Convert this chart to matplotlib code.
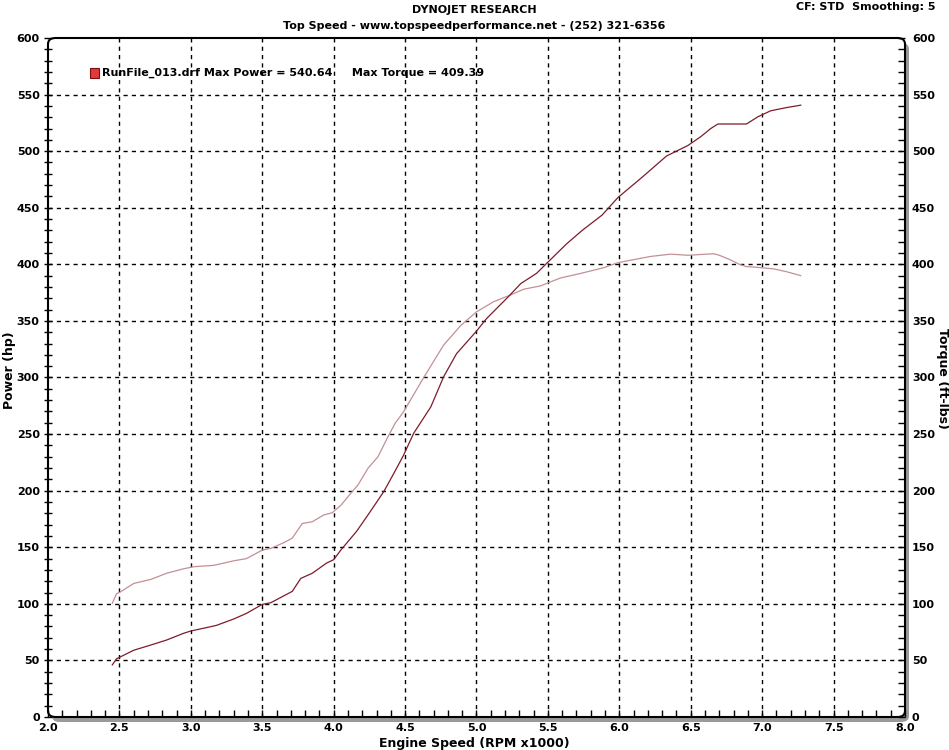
import numpy as np
import matplotlib.pyplot as plt
from matplotlib.patches import Rectangle, FancyBboxPatch
from matplotlib.ticker import MultipleLocator

# Dyno run values (RPM x1000)
rpm_power = [2.45, 2.48, 2.50, 2.60, 2.72, 2.83, 2.95, 3.00, 3.11, 3.18, 3.30, 3.39,
             3.50, 3.56, 3.65, 3.71, 3.77, 3.85, 3.95, 4.00, 4.05, 4.16, 4.24, 4.35,
             4.42, 4.49, 4.56, 4.68, 4.77, 4.86, 5.00, 5.07, 5.22, 5.31, 5.42, 5.49,
             5.63, 5.74, 5.88, 5.99, 6.16, 6.33, 6.48, 6.57, 6.64, 6.69, 6.89, 6.97,
             7.06, 7.17, 7.27]
power = [46, 51.5, 52.7, 59, 63.6, 68, 74, 76, 79, 81, 86.6, 91.6,
         99.5, 101, 107, 111, 122.5, 127, 136, 139, 147.5, 164, 178.5, 199,
         215, 231.5, 250.7, 274, 300.7, 321, 341, 352, 371, 383, 392, 400.7,
         418, 430, 443.6, 459, 477, 495.7, 505, 512.8, 520, 524, 524, 530.4,
         535.7, 538.5, 540.64]

rpm_torque = [2.45, 2.48, 2.50, 2.60, 2.72, 2.83, 2.95, 3.02, 3.16, 3.30, 3.39, 3.50,
              3.56, 3.65, 3.71, 3.78, 3.85, 3.93, 3.99, 4.05, 4.12, 4.17, 4.24, 4.31,
              4.38, 4.43, 4.49, 4.62, 4.77, 4.89, 5.00, 5.12, 5.24, 5.33, 5.45, 5.52,
              5.59, 5.73, 5.89, 5.99, 6.22, 6.36, 6.48, 6.57, 6.66, 6.70, 6.77, 6.84,
              6.89, 6.96, 7.08, 7.17, 7.27]
torque = [100.5, 109, 110, 118, 121.6, 127, 131, 132.8, 134, 138, 140, 147.5,
          149, 154, 158, 171, 172.5, 178.5, 180.5, 187, 197.7, 205, 219.7, 230,
          247.6, 259.5, 269.8, 297.8, 328.7, 346, 358, 367, 373, 378, 381, 384.6,
          388, 392, 397, 401.5, 407, 409, 408, 408.7, 409.39, 408, 404.4, 400,
          398, 397.4, 396, 393.5, 390]

x_ticks = [2.0, 2.5, 3.0, 3.5, 4.0, 4.5, 5.0, 5.5, 6.0, 6.5, 7.0, 7.5, 8.0]
y_ticks = list(range(0, 601, 50))

plt.rcParams['font.family'] = ['DejaVu Sans']
plt.rcParams['font.weight'] = 'bold'

W, H = 949, 750
fig = plt.figure(figsize=(W / 100, H / 100), dpi=100)
x0, x1, y0, y1 = 48, 905, 38, 717
ax = fig.add_axes([x0 / W, 1 - y1 / H, (x1 - x0) / W, (y1 - y0) / H])
ax.set_xlim(2.0, 8.0)
ax.set_ylim(0, 600)
ax.patch.set_alpha(0)

# frame with grey shadow and rounded corners
shadow = FancyBboxPatch(((x0 + 4) / W, 1 - (y1 + 5) / H), (x1 - x0) / W, (y1 - y0) / H,
                        boxstyle='round,pad=0,rounding_size=0.008',
                        transform=fig.transFigure, facecolor='#9a9a9a', edgecolor='none',
                        zorder=-3)
frame = FancyBboxPatch((x0 / W, 1 - y1 / H), (x1 - x0) / W, (y1 - y0) / H,
                       boxstyle='round,pad=0,rounding_size=0.008',
                       transform=fig.transFigure, facecolor='white', edgecolor='black',
                       linewidth=1.5, zorder=-2)
fig.patches.extend([shadow, frame])
for s in ax.spines.values():
    s.set_visible(False)

# dashed grid
for xv in x_ticks[1:-1]:
    ax.axvline(xv, color='black', lw=1.0, ls=(0, (3, 3)), zorder=1)
for yv in y_ticks[1:-1]:
    ax.axhline(yv, color='black', lw=1.0, ls=(0, (3, 3)), zorder=1)

ax.plot(rpm_torque, torque, color='#c29096', lw=0.9, zorder=3)
ax.plot(rpm_power, power, color='#7d1c2a', lw=0.9, zorder=4)

# ticks
ax.set_xticks(x_ticks)
ax.set_xticklabels([f'{v:.1f}' for v in x_ticks])
ax.xaxis.set_minor_locator(MultipleLocator(0.1))
ax.tick_params(axis='x', which='both', direction='in', top=False, bottom=True,
               length=5, width=1, pad=4, labelsize=8, color='black')
ax.set_yticks(y_ticks)
ax.yaxis.set_minor_locator(MultipleLocator(10))
ax.tick_params(axis='y', which='both', direction='inout', left=True, right=False,
               length=6, width=1, pad=3, labelsize=8)

ax2 = ax.twinx()
ax2.set_ylim(0, 600)
for s in ax2.spines.values():
    s.set_visible(False)
ax2.set_yticks(y_ticks)
ax2.yaxis.set_minor_locator(MultipleLocator(10))
ax2.tick_params(axis='y', which='both', direction='in', right=True, length=5,
                width=1, pad=5, labelsize=8)
for lbl in ax.get_xticklabels() + ax.get_yticklabels() + ax2.get_yticklabels():
    lbl.set_fontweight('bold')

# texts
fig.text(474 / W, 1 - 10 / H, 'DYNOJET RESEARCH', ha='center', va='center',
         fontsize=8, fontweight='bold')
fig.text(474 / W, 1 - 26 / H, 'Top Speed - www.topspeedperformance.net - (252) 321-6356',
         ha='center', va='center', fontsize=8, fontweight='bold')
fig.text(935 / W, 1 - 7 / H, 'CF: STD  Smoothing: 5', ha='right', va='center',
         fontsize=8, fontweight='bold')
fig.text(474 / W, 1 - 743 / H, 'Engine Speed (RPM x1000)', ha='center', va='center',
         fontsize=9, fontweight='bold')
fig.text(10 / W, 1 - 370 / H, 'Power (hp)', ha='center', va='center', rotation=90,
         fontsize=9, fontweight='bold')
fig.text(942 / W, 1 - 378 / H, 'Torque (ft-lbs)', ha='center', va='center', rotation=-90,
         fontsize=9, fontweight='bold')

# legend entry
fig.patches.append(Rectangle((90 / W, 1 - 78 / H), 9 / W, 10 / H, transform=fig.transFigure,
                             facecolor='#e23a3a', edgecolor='#7a1010', lw=0.8))
fig.text(102 / W, 1 - 73 / H,
         'RunFile_013.drf Max Power = 540.64     Max Torque = 409.39',
         ha='left', va='center', fontsize=8, fontweight='bold')

fig.savefig('out.png', dpi=100)
